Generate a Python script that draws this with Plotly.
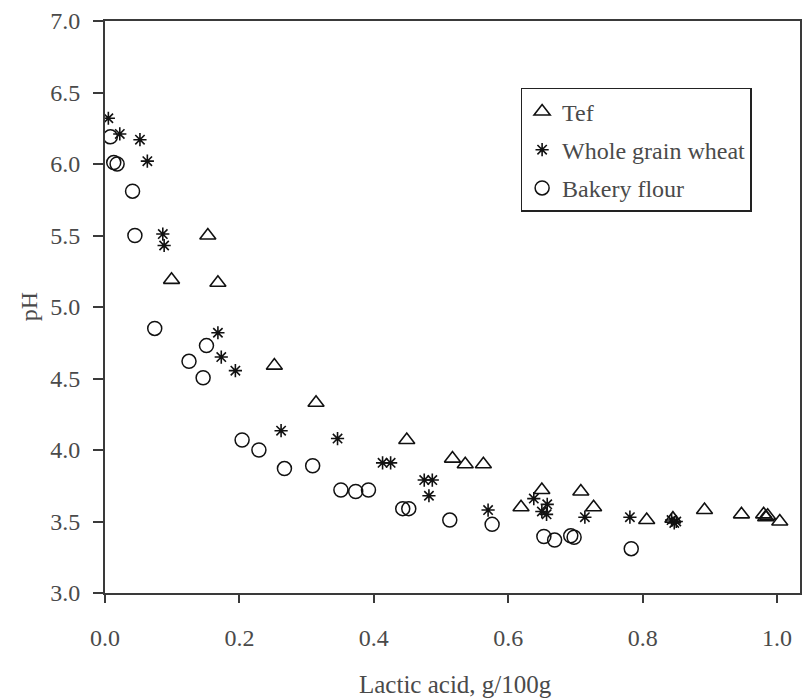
import plotly.graph_objects as go

# ---- data ----
tef_x = [0.153, 0.099, 0.168, 0.252, 0.314, 0.449, 0.517, 0.536, 0.563, 0.619,
         0.650, 0.708, 0.727, 0.806, 0.845, 0.892, 0.947, 0.980, 0.983, 0.986, 1.004]
tef_y = [5.50, 5.19, 5.17, 4.59, 4.33, 4.07, 3.94, 3.90, 3.90, 3.60,
         3.72, 3.71, 3.60, 3.51, 3.52, 3.58, 3.55, 3.55, 3.53, 3.54, 3.50]

wheat_x = [0.005, 0.022, 0.052, 0.063, 0.086, 0.088, 0.168, 0.173, 0.194, 0.262,
           0.346, 0.413, 0.425, 0.475, 0.487, 0.482, 0.570, 0.638, 0.650, 0.658,
           0.657, 0.714, 0.781, 0.843, 0.850, 0.847]
wheat_y = [6.32, 6.21, 6.17, 6.02, 5.51, 5.43, 4.82, 4.65, 4.555, 4.135,
           4.08, 3.91, 3.91, 3.79, 3.79, 3.68, 3.58, 3.66, 3.57, 3.62,
           3.55, 3.53, 3.53, 3.51, 3.50, 3.49]

flour_x = [0.008, 0.013, 0.018, 0.041, 0.0445, 0.074, 0.125, 0.151, 0.146, 0.204,
           0.229, 0.267, 0.309, 0.351, 0.373, 0.392, 0.443, 0.452, 0.513, 0.576,
           0.653, 0.669, 0.693, 0.698, 0.783]
flour_y = [6.19, 6.01, 6.00, 5.81, 5.50, 4.85, 4.62, 4.73, 4.505, 4.07,
           4.00, 3.87, 3.89, 3.72, 3.71, 3.72, 3.59, 3.59, 3.51, 3.48,
           3.395, 3.37, 3.40, 3.39, 3.31]

x_ticks = [0.0, 0.2, 0.4, 0.6, 0.8, 1.0]
y_ticks = [3.0, 3.5, 4.0, 4.5, 5.0, 5.5, 6.0, 6.5, 7.0]

FONT = "Liberation Serif"
AX = "#3a3a3a"
TXT = "#4a4a4a"

fig = go.Figure()
fig.add_trace(go.Scatter(x=tef_x, y=tef_y, mode="markers", name="Tef", legendgroup="a",
                         marker=dict(symbol="triangle-up-open", size=14, color="#111",
                                     line=dict(width=1.6, color="#111"))))
fig.add_trace(go.Scatter(x=wheat_x, y=wheat_y, mode="markers", name="Whole grain wheat",
                         legendgroup="b",
                         marker=dict(symbol="asterisk-open", size=11, color="#111",
                                     line=dict(width=1.6, color="#111"))))
fig.add_trace(go.Scatter(x=flour_x, y=flour_y, mode="markers", name="Bakery flour",
                         legendgroup="c",
                         marker=dict(symbol="circle-open", size=14, color="#111",
                                     line=dict(width=1.5, color="#111"))))

fig.update_layout(
    width=802, height=698,
    margin=dict(l=105, r=0, t=21, b=105),
    paper_bgcolor="white", plot_bgcolor="white",
    font=dict(family=FONT, size=24, color=TXT),
    showlegend=True,
    legend=dict(x=0.598, y=0.883, xanchor="left", yanchor="top",
                bgcolor="white", bordercolor="#222", borderwidth=1.5,
                font=dict(family=FONT, size=24, color=TXT),
                itemwidth=30, tracegroupgap=4),
    xaxis=dict(range=[0, 1.0341], tickvals=x_ticks, tickformat=".1f",
               showline=True, linecolor=AX, linewidth=2, mirror=True,
               ticks="outside", ticklen=8, tickwidth=2, tickcolor=AX,
               showgrid=False, zeroline=False, ticklabelstandoff=14,
               tickfont=dict(family=FONT, size=24, color=TXT)),
    yaxis=dict(range=[3, 7], tickvals=y_ticks, tickformat=".1f",
               showline=True, linecolor=AX, linewidth=2, mirror=True,
               ticks="outside", ticklen=10, tickwidth=2, tickcolor=AX,
               showgrid=False, zeroline=False, ticklabelstandoff=8,
               tickfont=dict(family=FONT, size=24, color=TXT)),
    annotations=[
        dict(text="Lactic acid, g/100g", xref="paper", yref="paper",
             x=(457 - 105) / 697, y=-(684 - 593) / 572, xanchor="center", yanchor="middle",
             showarrow=False, font=dict(family=FONT, size=25, color=TXT)),
        dict(text="pH", xref="paper", yref="paper",
             x=-(105 - 29) / 697, y=0.5, xanchor="center", yanchor="middle",
             textangle=-90, showarrow=False, font=dict(family=FONT, size=24, color=TXT)),
    ],
)

fig.write_html("out.html")
